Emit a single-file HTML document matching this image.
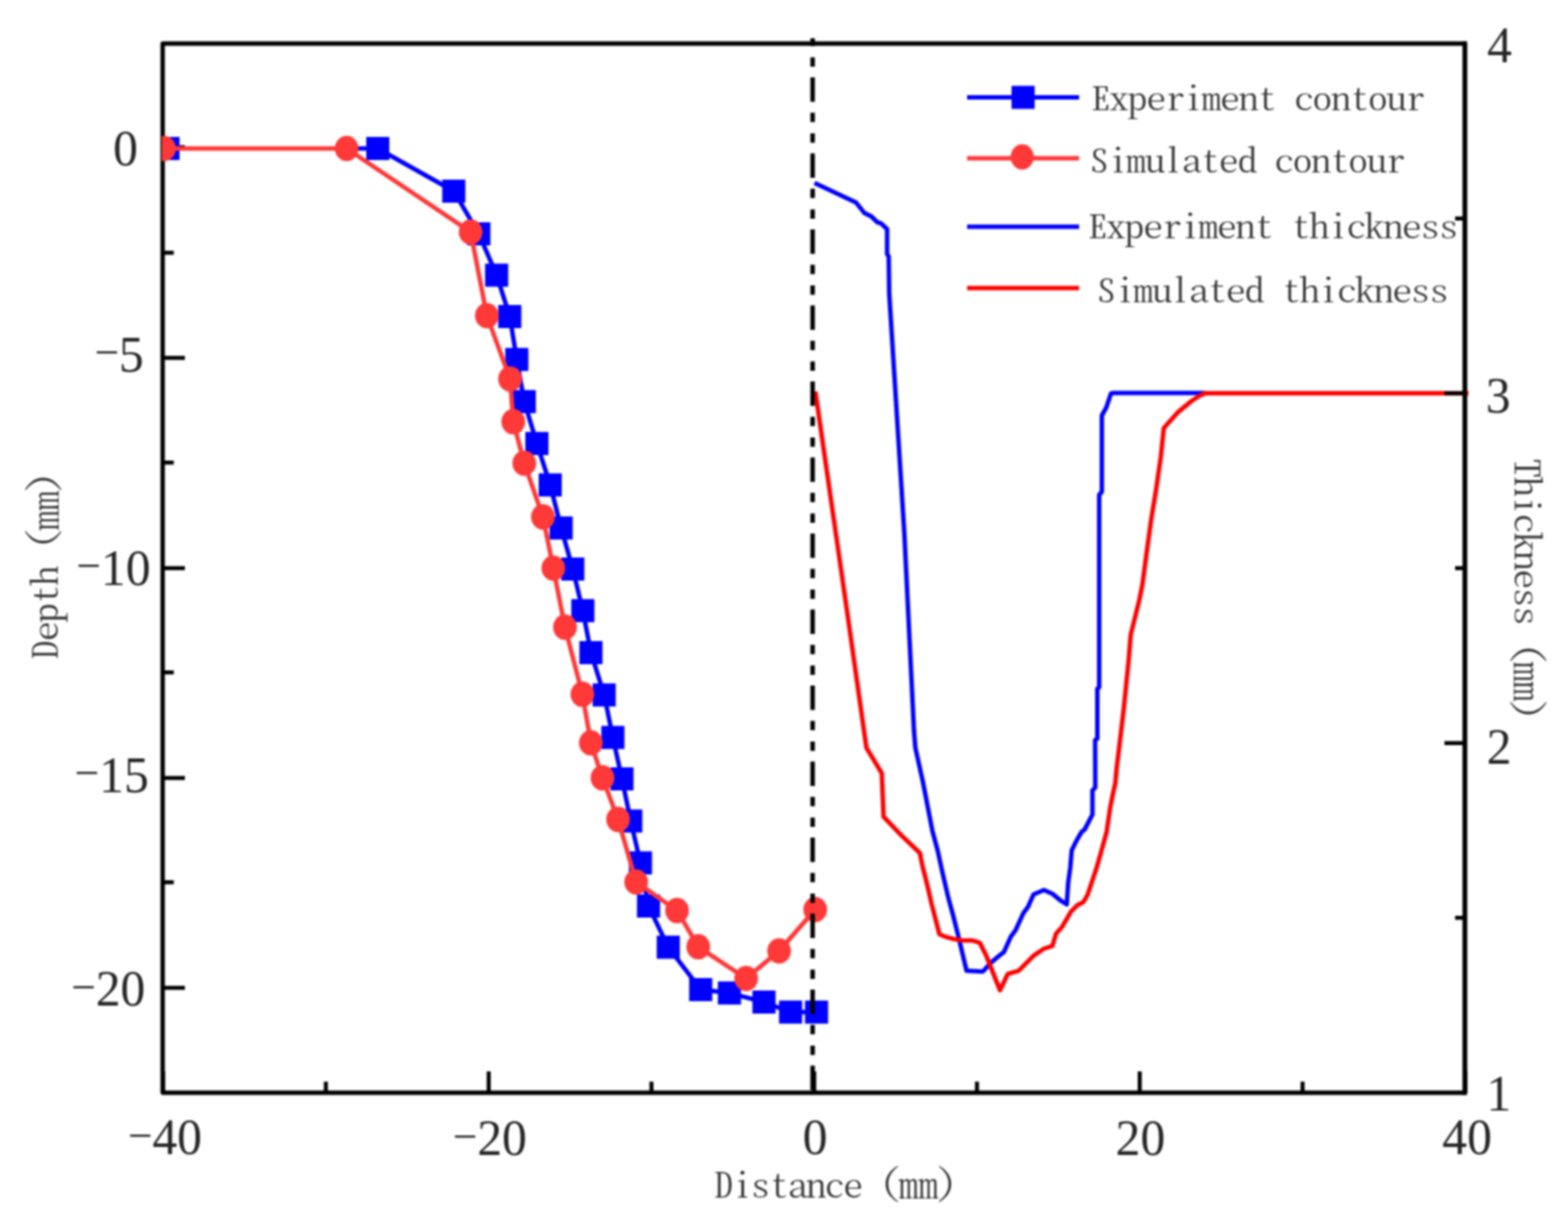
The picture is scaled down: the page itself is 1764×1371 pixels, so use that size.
<!DOCTYPE html><html><head><meta charset="utf-8"><title>Depth and thickness</title>
<style>html,body{margin:0;padding:0;background:#fff;width:1764px;height:1371px;overflow:hidden}svg{display:block}.num{font-family:"Liberation Serif","DejaVu Serif",serif;font-size:57px;fill:#262626}.cjk{font-family:"Noto Serif CJK SC","Liberation Serif",serif;font-size:41.6px;font-weight:300;fill:#333;font-feature-settings:"hwid" 1;white-space:pre}</style></head><body>
<svg width="1764" height="1371" viewBox="0 0 1764 1371">
<filter id="bl" x="0" y="0" width="1764" height="1371" filterUnits="userSpaceOnUse" color-interpolation-filters="sRGB"><feGaussianBlur stdDeviation="1.1"/></filter>
<g filter="url(#bl)">
<rect width="1764" height="1371" fill="#fff"/>
<defs><clipPath id="pa"><rect x="182" y="49.0" width="1466.0" height="1180.0"/></clipPath><clipPath id="pb"><rect x="183.0" y="49.0" width="1471.0" height="1180.0"/></clipPath></defs>
<rect x="183.0" y="49.0" width="1465.0" height="1180.0" fill="none" stroke="#000" stroke-width="4.9" stroke-linejoin="round"/>
<path d="M183.5,1229.0V1205.0M366.6,1229.0V1216.5M549.8,1229.0V1205.0M732.9,1229.0V1216.5M916.0,1229.0V1205.0M1099.1,1229.0V1216.5M1282.2,1229.0V1205.0M1465.4,1229.0V1216.5M1648.5,1229.0V1205.0M183.0,165.5H208.0M183.0,402.5H208.0M183.0,639.0H208.0M183.0,875.0H208.0M183.0,1111.0H208.0M183.0,284.3H195.5M183.0,520.3H195.5M183.0,756.3H195.5M183.0,992.3H195.5" stroke="#000" stroke-width="4.5" fill="none"/>
<g clip-path="url(#pa)">
<polyline points="396.0,167.0 425.0,167.0 510.5,215.0 538.7,263.0 558.7,309.5 573.5,356.0 581.4,404.3 589.8,451.7 604.0,498.8 619.0,545.4 631.3,593.8 644.4,640.0 655.7,686.8 664.8,734.0 679.7,781.6 689.5,829.4 699.7,876.0 709.6,923.4 720.5,970.5 729.6,1019.0 751.8,1065.3 788.3,1113.0 820.6,1116.8 859.5,1127.0 889.4,1138.3 918.6,1138.3" fill="none" stroke="#0000ff" stroke-width="5.0" stroke-linejoin="round"/>
<g fill="#0000ff"><rect x="176.0" y="154.0" width="26" height="26"/><rect x="412.0" y="154.0" width="26" height="26"/><rect x="497.5" y="202.0" width="26" height="26"/><rect x="525.7" y="250.0" width="26" height="26"/><rect x="545.7" y="296.5" width="26" height="26"/><rect x="560.5" y="343.0" width="26" height="26"/><rect x="568.4" y="391.3" width="26" height="26"/><rect x="576.8" y="438.7" width="26" height="26"/><rect x="591.0" y="485.8" width="26" height="26"/><rect x="606.0" y="532.4" width="26" height="26"/><rect x="618.3" y="580.8" width="26" height="26"/><rect x="631.4" y="627.0" width="26" height="26"/><rect x="642.7" y="673.8" width="26" height="26"/><rect x="651.8" y="721.0" width="26" height="26"/><rect x="666.7" y="768.6" width="26" height="26"/><rect x="676.5" y="816.4" width="26" height="26"/><rect x="686.7" y="863.0" width="26" height="26"/><rect x="696.6" y="910.4" width="26" height="26"/><rect x="707.5" y="957.5" width="26" height="26"/><rect x="716.6" y="1006.0" width="26" height="26"/><rect x="738.8" y="1052.3" width="26" height="26"/><rect x="775.3" y="1100.0" width="26" height="26"/><rect x="807.6" y="1103.8" width="26" height="26"/><rect x="846.5" y="1114.0" width="26" height="26"/><rect x="876.4" y="1125.3" width="26" height="26"/><rect x="905.6" y="1125.3" width="26" height="26"/></g>
<polyline points="184.5,167.0 390.0,167.0 529.5,261.0 547.7,355.0 573.8,426.2 577.4,474.3 589.8,521.0 610.8,581.4 622.5,639.0 635.6,705.4 655.2,780.8 664.7,835.5 677.8,874.9 695.3,921.6 715.7,992.0 761.7,1024.1 785.5,1064.8 839.4,1100.5 876.5,1069.5 917.1,1023.0" fill="none" stroke="#ff3838" stroke-width="5.0" stroke-linejoin="round"/>
<g fill="#ff3838"><ellipse cx="184.5" cy="167.0" rx="13.3" ry="14.3"/><ellipse cx="390.0" cy="167.0" rx="13.3" ry="14.3"/><ellipse cx="529.5" cy="261.0" rx="13.3" ry="14.3"/><ellipse cx="547.7" cy="355.0" rx="13.3" ry="14.3"/><ellipse cx="573.8" cy="426.2" rx="13.3" ry="14.3"/><ellipse cx="577.4" cy="474.3" rx="13.3" ry="14.3"/><ellipse cx="589.8" cy="521.0" rx="13.3" ry="14.3"/><ellipse cx="610.8" cy="581.4" rx="13.3" ry="14.3"/><ellipse cx="622.5" cy="639.0" rx="13.3" ry="14.3"/><ellipse cx="635.6" cy="705.4" rx="13.3" ry="14.3"/><ellipse cx="655.2" cy="780.8" rx="13.3" ry="14.3"/><ellipse cx="664.7" cy="835.5" rx="13.3" ry="14.3"/><ellipse cx="677.8" cy="874.9" rx="13.3" ry="14.3"/><ellipse cx="695.3" cy="921.6" rx="13.3" ry="14.3"/><ellipse cx="715.7" cy="992.0" rx="13.3" ry="14.3"/><ellipse cx="761.7" cy="1024.1" rx="13.3" ry="14.3"/><ellipse cx="785.5" cy="1064.8" rx="13.3" ry="14.3"/><ellipse cx="839.4" cy="1100.5" rx="13.3" ry="14.3"/><ellipse cx="876.5" cy="1069.5" rx="13.3" ry="14.3"/><ellipse cx="917.1" cy="1023.0" rx="13.3" ry="14.3"/></g>
</g>
<g clip-path="url(#pb)">
<polyline points="916.3,205.7 963.0,227.8 972.4,239.5 980.5,243.6 987.0,250.0 991.0,251.2 998.0,257.6 998.0,285.6 999.8,288.5 1000.4,330.5 1017.4,600.0 1028.3,823.0 1029.8,841.0 1038.4,880.0 1048.9,934.3 1055.0,957.0 1060.3,981.5 1066.4,1007.8 1072.5,1030.5 1077.8,1051.5 1087.4,1091.8 1105.8,1092.7 1114.5,1083.0 1125.9,1073.4 1129.4,1070.8 1137.3,1053.3 1142.5,1046.3 1151.3,1027.0 1156.5,1020.0 1162.7,1006.0 1174.4,1001.0 1184.0,1005.2 1193.7,1013.2 1200.1,1017.2 1201.7,993.2 1204.1,975.5 1205.7,956.3 1211.3,945.0 1217.0,935.4 1220.2,933.0 1229.0,916.2 1229.0,888.9 1232.2,885.7 1232.0,832.4 1234.5,830.7 1234.5,774.7 1236.6,773.0 1236.6,556.5 1239.6,553.0 1239.6,467.3 1244.5,458.5 1249.8,442.8 1251.5,441.9 1355.5,441.9" fill="none" stroke="#0000ff" stroke-width="5.0" stroke-linejoin="round"/>
<polyline points="917.3,440.4 953.3,690.0 974.7,841.0 992.0,869.6 994.0,918.6 1013.5,939.0 1034.9,959.4 1037.5,972.8 1042.8,993.8 1048.0,1016.5 1056.8,1050.7 1065.5,1054.2 1072.5,1056.0 1083.0,1057.7 1093.5,1057.7 1102.3,1060.3 1109.3,1074.3 1125.0,1113.7 1133.8,1095.3 1146.0,1091.8 1163.5,1074.3 1174.4,1067.0 1184.0,1063.8 1188.0,1050.1 1194.5,1042.9 1204.9,1025.2 1212.1,1018.0 1218.6,1014.8 1223.4,1006.8 1229.0,990.0 1233.8,975.5 1240.2,953.0 1245.0,935.4 1249.0,908.1 1252.2,892.1 1254.7,880.9 1256.3,863.2 1259.0,841.2 1264.2,797.4 1269.5,745.0 1272.1,713.5 1276.5,696.0 1281.7,675.0 1285.2,657.5 1290.0,621.3 1295.3,582.8 1300.5,551.3 1305.8,514.5 1309.3,481.3 1325.0,463.8 1340.5,451.0 1349.0,445.5 1355.5,442.3 1652.0,442.3" fill="none" stroke="#ff0000" stroke-width="5.0" stroke-linejoin="round"/>
</g>
<line x1="914.2" y1="43" x2="914.2" y2="1229" stroke="#000" stroke-width="5" stroke-dasharray="27.5 12.3 10.5 12.8 10.4 12" stroke-dashoffset="41.5"/>
<path d="M1648.0,46.6V1231.4" stroke="#000" stroke-width="4.9" fill="none"/>
<path d="M1648.0,835.7H1625.0M1648.0,442.3H1625.0M1648.0,1032.3H1637.0M1648.0,639.0H1637.0M1648.0,245.7H1637.0" stroke="#000" stroke-width="4.5" fill="none"/>
<text class="num" transform="translate(185.5,1298.0) scale(0.98,1)" text-anchor="middle"><tspan font-size="50" dy="-4.5">−</tspan><tspan dy="4.5">40</tspan></text>
<text class="num" transform="translate(551.0,1299.1) scale(0.98,1)" text-anchor="middle"><tspan font-size="50" dy="-4.5">−</tspan><tspan dy="4.5">20</tspan></text>
<text class="num" transform="translate(917.0,1298.0) scale(0.98,1)" text-anchor="middle">0</text>
<text class="num" transform="translate(1283.0,1298.5) scale(0.98,1)" text-anchor="middle">20</text>
<text class="num" transform="translate(1650.4,1298.0) scale(0.98,1)" text-anchor="middle">40</text>
<text class="num" transform="translate(155.1,185.7) scale(0.98,1)" text-anchor="end">0</text>
<text class="num" transform="translate(161.8,417.7) scale(0.98,1)" text-anchor="end"><tspan font-size="50" dy="-4.5">−</tspan><tspan dy="4.5">5</tspan></text>
<text class="num" transform="translate(169.3,657.7) scale(0.98,1)" text-anchor="end"><tspan font-size="50" dy="-4.5">−</tspan><tspan dy="4.5">10</tspan></text>
<text class="num" transform="translate(167.3,890.8) scale(0.98,1)" text-anchor="end"><tspan font-size="50" dy="-4.5">−</tspan><tspan dy="4.5">15</tspan></text>
<text class="num" transform="translate(163.5,1131.0) scale(0.98,1)" text-anchor="end"><tspan font-size="50" dy="-4.5">−</tspan><tspan dy="4.5">20</tspan></text>
<text class="num" transform="translate(1672.9,70.2) scale(0.98,1)" text-anchor="start">4</text>
<text class="num" transform="translate(1671.6,464.0) scale(0.98,1)" text-anchor="start">3</text>
<text class="num" transform="translate(1672.6,859.3) scale(0.98,1)" text-anchor="start">2</text>
<text class="num" transform="translate(1672.2,1249.2) scale(0.98,1)" text-anchor="start">1</text>
<text class="cjk" letter-spacing="-1.36" transform="translate(803,1347) scale(1.07,0.94)">Distance <tspan dy="-3.5">(</tspan><tspan dy="3.5">㎜</tspan><tspan dy="-3.5">)</tspan></text>
<text class="cjk" letter-spacing="-1.36" transform="translate(64.5,742) rotate(-90) scale(1.07,0.94)">Depth <tspan dy="-3.5">(</tspan><tspan dy="3.5">㎜</tspan><tspan dy="-3.5">)</tspan></text>
<text class="cjk" letter-spacing="-1.36" transform="translate(1704,515.5) rotate(90) scale(1.07,0.94)">Thickness <tspan dy="-3.5">(</tspan><tspan dy="3.5">㎜</tspan><tspan dy="-3.5">)</tspan></text>
<line x1="1088" y1="109.5" x2="1214" y2="109.5" stroke="#0000ff" stroke-width="5"/>
<rect x="1138" y="96.5" width="26" height="26" fill="#0000ff"/>
<line x1="1088" y1="178" x2="1214" y2="178" stroke="#ff3838" stroke-width="5"/>
<ellipse cx="1150" cy="176.5" rx="13" ry="14.3" fill="#ff3838"/>
<line x1="1088" y1="255" x2="1214" y2="255" stroke="#0000ff" stroke-width="5"/>
<line x1="1088" y1="324" x2="1214" y2="324" stroke="#ff0000" stroke-width="5"/>
<text class="cjk" letter-spacing="-1.36" transform="translate(1227,124) scale(1.07,0.88)">Experiment contour</text>
<text class="cjk" letter-spacing="-1.36" transform="translate(1225.5,194.4) scale(1.07,0.88)">Simulated contour</text>
<text class="cjk" letter-spacing="-1.36" transform="translate(1223.5,268) scale(1.07,0.88)">Experiment thickness</text>
<text class="cjk" letter-spacing="-1.36" transform="translate(1233.5,340.4) scale(1.07,0.88)">Simulated thickness</text>
</g>
</svg></body></html>
